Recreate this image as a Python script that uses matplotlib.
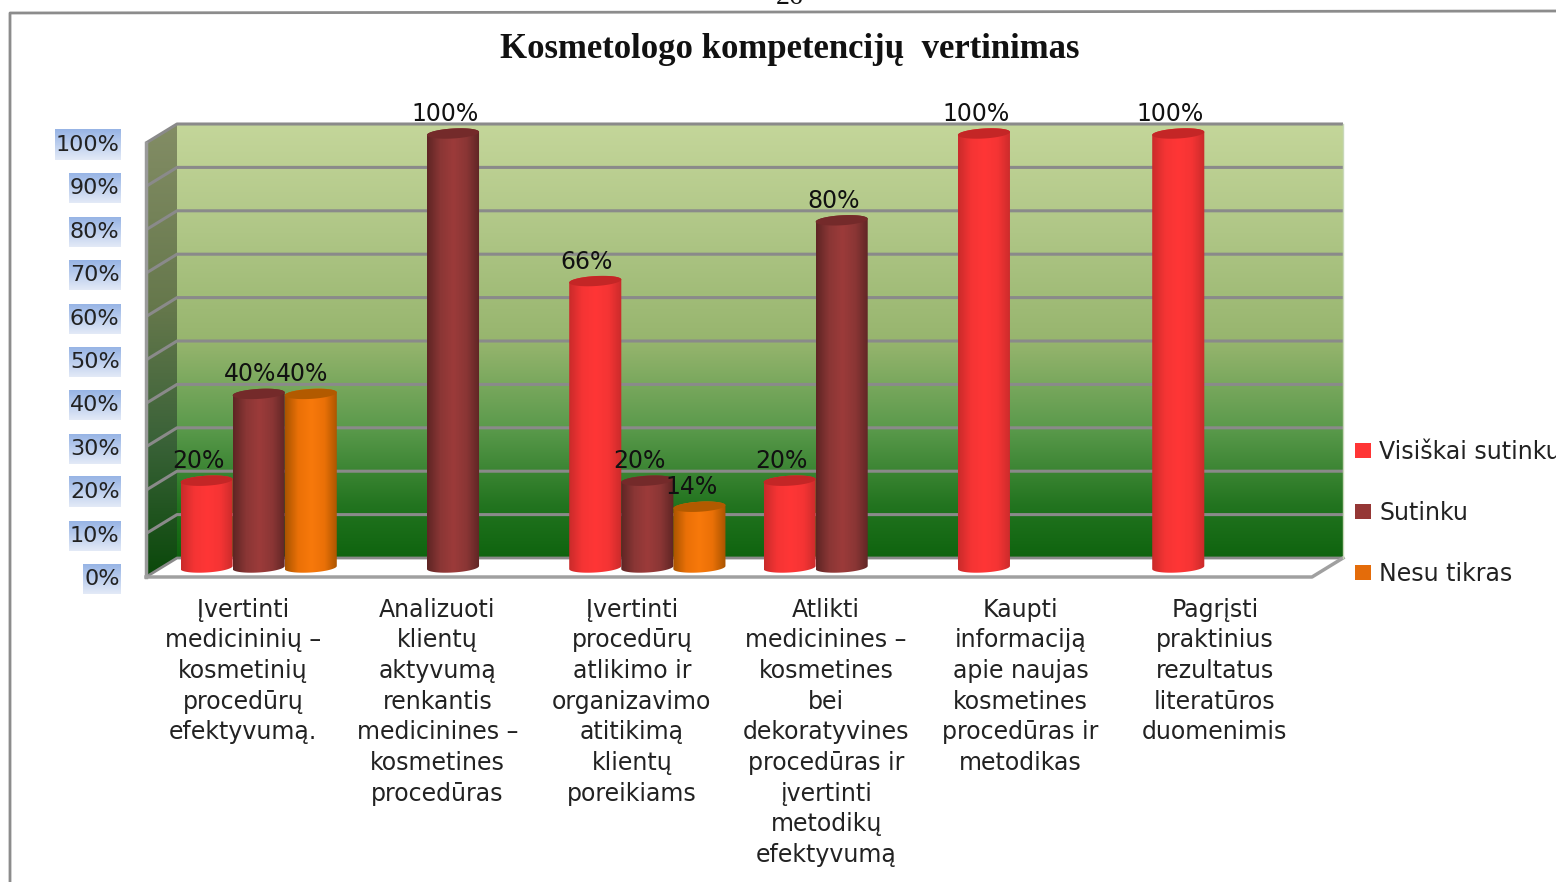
import matplotlib
matplotlib.use('Agg')
import matplotlib.pyplot as plt
import numpy as np
from matplotlib.colors import LinearSegmentedColormap
from matplotlib.lines import Line2D
from matplotlib.patches import Patch, Polygon

title = 'Kosmetologo kompetencijų  vertinimas'
categories = [
    'Įvertinti\nmedicininių –\nkosmetinių\nprocedūrų\nefektyvumą.',
    'Analizuoti\nklientų\naktyvumą\nrenkantis\nmedicinines –\nkosmetines\nprocedūras',
    'Įvertinti\nprocedūrų\natlikimo ir\norganizavimo\natitikimą\nklientų\nporeikiams',
    'Atlikti\nmedicinines –\nkosmetines\nbei\ndekoratyvines\nprocedūras ir\nįvertinti\nmetodikų\nefektyvumą',
    'Kaupti\ninformaciją\napie naujas\nkosmetines\nprocedūras ir\nmetodikas',
    'Pagrįsti\npraktinius\nrezultatus\nliteratūros\nduomenimis',
]
series_names = ['Visiškai sutinku', 'Sutinku', 'Nesu tikras']
visiskai = [20, 0, 66, 20, 100, 100]
sutinku = [40, 100, 20, 80, 0, 0]
nesu_tikras = [40, 0, 14, 0, 0, 0]
yticks = [0, 10, 20, 30, 40, 50, 60, 70, 80, 90, 100]

W, H = 1556, 882
# depth of the fake 3D box, in data units
DX = 31 / 194.33
DY = 19 / 4.34
BAR_W = 0.268
RY = 1.15
TILT = 0.7

# colours: edge, middle, edge and then the top cap
bar_styles = [
    (['#c92b2b', '#f53434', '#ff3636', '#f53434', '#c92b2b'], '#c42626', '#ff3535'),
    (['#5e2524', '#8a3635', '#9c3b3a', '#8a3635', '#5e2524'], '#742a2a', '#953735'),
    (['#a85400', '#ea7007', '#f7790b', '#ea7007', '#a85400'], '#b25a00', '#e46c0a'),
]
wall_cmap = LinearSegmentedColormap.from_list('wall', [
    (0, '#0f640f'), (0.12, '#22741f'), (0.3, '#5b9a4c'), (0.5, '#97b56e'), (0.75, '#afc686'), (1, '#c4d69a')])
side_cmap = LinearSegmentedColormap.from_list('side', [
    (0, '#0a480a'), (0.3, '#3a6238'), (0.6, '#66784c'), (1, '#838d65')])
label_cmap = LinearSegmentedColormap.from_list('lab', ['#e3eaf7', '#97b4e5'])

fig = plt.figure(figsize=(W / 100, H / 100), dpi=100)
ax = fig.add_axes([146 / W, 1 - 577 / H, (1312 - 146) / W, 434 / H])
ax.patch.set_visible(False)
for s in ax.spines.values():
    s.set_visible(False)


def gradient(pts, colors, vertical=True, z=1):
    pts = np.array(pts)
    x0, x1 = pts[:, 0].min(), pts[:, 0].max()
    y0, y1 = pts[:, 1].min(), pts[:, 1].max()
    grad = np.linspace(0, 1, 256)
    grad = grad.reshape(-1, 1) if vertical else grad.reshape(1, -1)
    im = ax.imshow(grad, cmap=colors, extent=(x0, x1, y0, y1), origin='lower', aspect='auto',
                   interpolation='bilinear', zorder=z)
    # the box sticks out of the axes, so only the polygon may clip
    im.set_clip_box(fig.bbox)
    im.set_clip_path(Polygon(pts, transform=ax.transData))


n = len(categories)
# back wall, side wall and floor
gradient([(DX, DY), (n + DX, DY), (n + DX, 100 + DY), (DX, 100 + DY)], wall_cmap)
gradient([(0, 0), (DX, DY), (DX, 100 + DY), (0, 100)], side_cmap)
ax.add_patch(Polygon([(0, 0), (n, 0), (n + DX, DY), (DX, DY)], fc='white', ec='none', zorder=1, clip_on=False))

for v in yticks:
    ax.plot([0, DX, n + DX], [v, v + DY, v + DY], color='#8a8a8a', lw=2.2 if v else 2, zorder=2,
            clip_on=False, solid_capstyle='butt')
ax.plot([0, 0], [0, 100], color='#9a9a9a', lw=2.5, zorder=2, clip_on=False)
ax.plot([0, n, n + DX], [0, 0, DY], color='#a0a0a0', lw=2.5, zorder=2, clip_on=False)
ax.plot([n + DX, n + DX], [DY, 100 + DY], color='#c8d8b8', lw=1, zorder=2, clip_on=False)

# bars, left to right so the later ones sit in front
series = [visiskai, sutinku, nesu_tikras]
z = 3
for i in range(n):
    for j in range(3):
        val = series[j][i]
        if val == 0:
            continue
        cx = i + 0.5 + (j - 1) * BAR_W + DX / 2
        top = val + DY / 2
        t = np.linspace(0, 2 * np.pi, 80)
        ex = cx + BAR_W / 2 * np.cos(t)
        tilt = TILT * np.cos(t) / 2
        ring = RY * np.sin(t) + tilt
        lower = np.linspace(np.pi, 2 * np.pi, 40)
        upper = np.linspace(0, np.pi, 40)
        body = list(zip(cx + BAR_W / 2 * np.cos(lower), DY / 2 + RY * np.sin(lower) + TILT * np.cos(lower) / 2))
        body += list(zip(cx + BAR_W / 2 * np.cos(upper), top + RY * np.sin(upper) + TILT * np.cos(upper) / 2))
        cols, cap, _ = bar_styles[j]
        gradient(body, LinearSegmentedColormap.from_list('b', cols), vertical=False, z=z)
        ax.add_patch(Polygon(list(zip(ex, top + ring)), fc=cap, ec='none', zorder=z + 0.1, clip_on=False))
        ax.annotate(f'{val}%', (cx, top), xytext=(-6, 14), textcoords='offset points', ha='center', va='center',
                    fontsize=17, color='#111111', zorder=20, annotation_clip=False)
        z += 1

ax.set_xticks(np.arange(n) + 0.5)
ax.set_xticklabels(categories, fontsize=17, color='#222222', linespacing=1.35, ha='center', va='top')
ax.set_yticks(yticks)
ax.set_yticklabels([f'{v}%' for v in yticks], fontsize=16, color='#222222')
ax.tick_params(axis='x', length=0, pad=15)
ax.tick_params(axis='y', length=0, pad=19)
ax.set_xlim(0, n)
ax.set_ylim(0, 100)

# gradient boxes behind the y tick labels
fig.canvas.draw()
inv = ax.transData.inverted()
for lab in ax.get_yticklabels():
    bb = lab.get_window_extent()
    cy = (bb.y0 + bb.y1) / 2
    (x0, y0), (x1, y1) = inv.transform([(bb.x0 - 1, cy - 15), (bb.x1 + 1, cy + 15)])
    ax.imshow(np.linspace(0, 1, 64).reshape(-1, 1), cmap=label_cmap, extent=(x0, x1, y0, y1), origin='lower',
              aspect='auto', interpolation='bilinear', zorder=1, clip_on=False)
ax.set_xlim(0, n)
ax.set_ylim(0, 100)

handles = [Patch(fc=bar_styles[j][2], ec='none', label=series_names[j]) for j in range(3)]
ax.legend(handles=handles, loc='center left', bbox_to_anchor=(1355 / W, 1 - 513 / H),
          bbox_transform=fig.transFigure, frameon=False, fontsize=17, labelspacing=1.57, borderaxespad=0,
          handlelength=0.68, handleheight=0.6, handletextpad=0.34, borderpad=0, labelcolor='#222222')

fig.text(790 / W, 1 - (-3) / H, '26', family='Liberation Serif', fontsize=20, ha='center', va='center', color='#111111')
fig.text(790 / W, 1 - 50 / H, title, family='Liberation Serif', fontweight='bold', fontsize=25,
         ha='center', va='center', color='#111111')

# page frame around the chart
fig.add_artist(Line2D([10 / W, 10 / W, 1], [0, 1 - 13 / H, 1 - 11 / H], color='#8c8c8c', lw=2))

fig.savefig('out.png', dpi=100)
